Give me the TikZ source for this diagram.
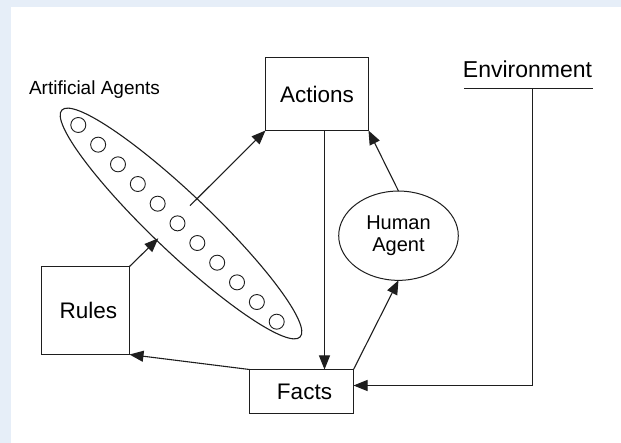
\documentclass[tikz,border=0pt]{standalone}
\usepackage{fontspec}
\setmainfont{Liberation Sans}
\usetikzlibrary{shapes.geometric,arrows.meta,calc}
\definecolor{paneblue}{HTML}{E6EEF8}
\definecolor{ink}{HTML}{1E1E1E}
\begin{document}
\begin{tikzpicture}[x=1pt,y=-1pt,
  box/.style={draw=ink,line width=1pt,rectangle,inner sep=0pt,outer sep=0pt,font=\fontsize{22.5}{24}\selectfont},
  agentdot/.style={draw=ink,line width=0.9pt,circle,inner sep=0pt,outer sep=0pt,minimum size=15pt},
  arr/.style={draw=ink,line width=1.1pt,-{Triangle[length=14pt,width=11pt]}},
  straight/.style={draw=ink,line width=1pt,-{Triangle[length=14pt,width=11pt]}},
  plain/.style={draw=ink,line width=1pt}]
  % page and its tinted top/left margin
  \useasboundingbox (0,0) rectangle (621,443);
  \fill[paneblue] (0,0) rectangle (621,443);
  \fill[white] (11,7) rectangle (621,443);

  % boxes
  \node[box,minimum width=103pt,minimum height=73pt] (actions) at (317,94) {Actions};
  \node[box,minimum width=88pt,minimum height=88pt] (rules) at (85.5,310.5) {\hspace{6pt}Rules};
  \node[box,minimum width=104pt,minimum height=44pt] (facts) at (301.5,391.5) {\hspace{6pt}Facts};

  % human agent
  \node[draw=ink,line width=1pt,ellipse,inner sep=0pt,outer sep=0pt,minimum width=119.6pt,minimum height=89.3pt,
        align=center,font=\fontsize{20}{22}\selectfont] (human) at (398.5,235.7) {Human\\Agent};

  % artificial agents: a group of small agents inside a tilted ellipse
  \node[draw=ink,line width=1.1pt,ellipse,inner sep=0pt,outer sep=0pt,minimum width=329pt,minimum height=58pt,rotate=-43.6] (group) at (181,223.5) {};
  \foreach \i in {0,...,10}
    \node[agentdot] (a\i) at ({78.3+19.84*\i},{125+19.67*\i}) {};
  \node[anchor=base,font=\fontsize{19}{21}\selectfont] (grouplabel) at (94.5,95) {Artificial Agents};

  % environment
  \node[anchor=base,font=\fontsize{23}{25}\selectfont] (env) at (527.5,77.7) {Environment};
  \coordinate (envL) at (464,88.5);
  \coordinate (envR) at (593,88.5);
  \coordinate (envdrop) at (532.5,88.5);
  \coordinate (envturn) at (532.5,385.5);
  \draw[plain] (envL) -- (envR);
  \draw[straight] (envdrop) -- (envturn) -- (envturn -| facts.east);

  % connectors
  \coordinate (groupout) at (190,205.7);
  \coordinate (groupin) at (158.3,238.3);
  \coordinate (actdown) at (324.5,130.5);
  \coordinate (factsin) at (324.5,369.5);
  \draw[arr] (rules.north east) -- (groupin);
  \draw[arr] (groupout) -- (actions.south west);
  \draw[straight] (actdown) -- (factsin);
  \draw[arr] (human.north) -- (actions.south east);
  \draw[arr] (facts.north east) -- (human.south);
  \draw[arr] (facts.north west) -- (rules.south east);
\end{tikzpicture}
\end{document}
